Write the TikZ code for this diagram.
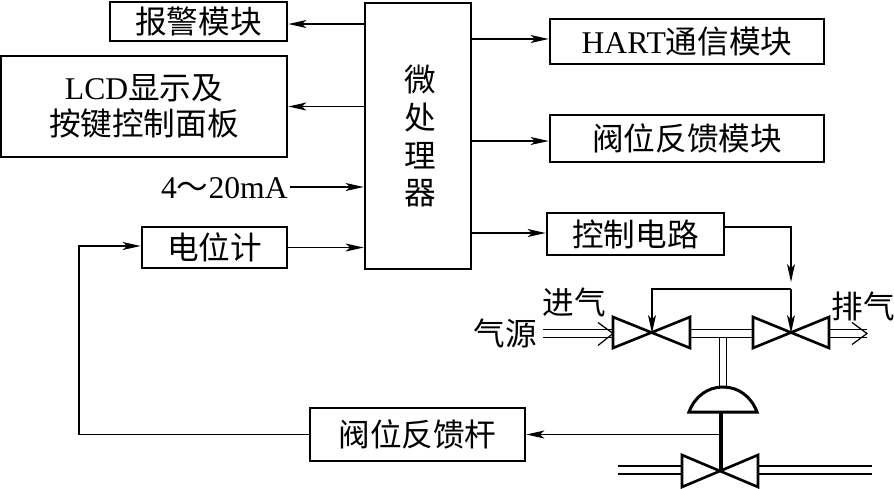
\documentclass[tikz,border=0pt]{standalone}
\usepackage{fontspec}
\setmainfont{Liberation Serif}
\newfontfamily\cjk{Noto Sans CJK SC}
\usetikzlibrary{arrows.meta}
\tikzstyle{process} = [rectangle, draw=black, line width=1.6pt, inner sep=0pt, text centered, font=\fontsize{18}{20.6}\selectfont]
\tikzstyle{labeltext} = [inner sep=0pt, font=\fontsize{18}{20.6}\selectfont]
\tikzstyle{arrow} = [line width=0.7pt,-{Stealth[length=0.36cm,width=0.16cm,inset=0.09cm]}]
\tikzstyle{valve} = [line width=1.5pt, line join=miter]
\tikzstyle{airline} = [double, double distance=3.5pt, line width=0.6pt]
\tikzstyle{barb} = [line width=0.7pt]
\tikzstyle{pipe} = [double, double distance=3pt, line width=1.2pt]

\begin{document}
\begin{tikzpicture}[x=0.02cm,y=-0.02cm]
\useasboundingbox (0,0) rectangle (894,488);

\node (mcu) [process, minimum width=2.12cm, minimum height=5.32cm, align=center, font=\fontsize{18}{21.6}\selectfont] at (418,136) {\cjk\hspace{0.1cm}微\\\cjk\hspace{0.1cm}处\\\cjk\hspace{0.1cm}理\\\cjk\hspace{0.1cm}器};
\node (alarm) [process, minimum width=3.54cm, minimum height=0.78cm] at (198.5,21.5) {\cjk 报警模块};
\node (lcd) [process, minimum width=5.72cm, minimum height=2.02cm, align=center] at (144,106.5) {LCD{\cjk 显示及}\\\cjk 按键控制面板};
\node (current) [labeltext, anchor=east] at (288,188) {4{\cjk ～}20mA};
\node (pot) [process, minimum width=2.9cm, minimum height=0.82cm] at (214.5,247.5) {\cjk 电位计};
\node (hart) [process, minimum width=5.48cm, minimum height=0.9cm] at (687,41.5) {HART{\cjk 通信模块}};
\node (posfb) [process, minimum width=5.48cm, minimum height=0.94cm] at (687,138.5) {\cjk 阀位反馈模块};
\node (ctrl) [process, minimum width=3.54cm, minimum height=0.84cm] at (635.5,234) {\cjk 控制电路};
\node (rod) [process, minimum width=4.3cm, minimum height=1.06cm] at (417.5,434.5) {\cjk 阀位反馈杆};

\node (inlet) [labeltext] at (574,302) {\cjk 进气};
\node (source) [labeltext] at (505,333) {\cjk 气源};
\node (exhaust) [labeltext] at (863,306) {\cjk 排气};

\coordinate (valvea) at (652,333);
\coordinate (valveb) at (791,333);
\coordinate (valvec) at (720,471);
\coordinate (sourcein) at (543,333.5);
\coordinate (sourceend) at (613,333.5);
\coordinate (exhaustout) at (867,333.5);
\coordinate (tee) at (723,333.5);
\coordinate (bridge) at (791,289);
\coordinate (stemtap) at (721,434.5);
\coordinate (potcorner) at (79,246);

% signals round the processor
\draw [arrow] ([yshift=-0.05cm]mcu.west |- alarm.east) -- ([yshift=-0.05cm]alarm.east);
\draw [arrow] (mcu.west |- lcd.east) -- (lcd.east);
\draw [arrow] ([xshift=0.04cm]current.east |- 0,187) -- (mcu.west |- 0,187);
\draw [arrow] (pot.east) -- (mcu.west |- pot.east);
\draw [arrow] (mcu.east |- 0,39) -- (hart.west |- 0,39);
\draw [arrow] (mcu.east |- 0,141) -- (posfb.west |- 0,141);
\draw [arrow] (mcu.east |- 0,233) -- (ctrl.west |- 0,233);

% feedback
\draw [arrow] (rod.west) -| (potcorner) -- (pot.west |- potcorner);
\draw [arrow] (stemtap) -- (rod.east |- stemtap);

% solenoid valves
\draw [airline] (723,336) -- (723,386);
\draw [airline] ([xshift=0.78cm]valvea |- tee) -- ([xshift=-0.78cm]valveb |- tee);
\draw [airline] (sourcein) -- (sourceend);
\draw [barb] ([shift={(-15,-11)}]sourceend) -- (sourceend) -- ([shift={(-15,12)}]sourceend);
\draw [airline] ([xshift=0.78cm]valveb |- tee) -- (exhaustout);
\draw [barb] ([shift={(-15,-11)}]exhaustout) -- (exhaustout) -- ([shift={(-15,11)}]exhaustout);

\draw [valve, fill=white] ([shift={(-39,-16)}]valvea) -- ([shift={(38,15)}]valvea) -- ([shift={(38,-16)}]valvea) -- ([shift={(-39,15)}]valvea) -- cycle;
\draw [valve, fill=white] ([shift={(-38,-16)}]valveb) -- ([shift={(38,15)}]valveb) -- ([shift={(38,-16)}]valveb) -- ([shift={(-38,15)}]valveb) -- cycle;

\draw [arrow] (ctrl.east |- 0,227) -| (791,282);
\draw [arrow] (bridge) -- (valveb);
\draw [arrow] (bridge) -- (valvea |- bridge) -- (valvea);

% actuator and main valve
\draw [pipe] (618,470) -- (682,470);
\draw [pipe] (758,470) -- (872,470);
\draw [valve, line width=1.7pt] (689,412) .. controls (695,396) and (708,387) .. (723,387) .. controls (738,387) and (751,396) .. (757,412) -- cycle;
\draw [valve, fill=white] ([shift={(-38,-16)}]valvec) -- ([shift={(38,16)}]valvec) -- ([shift={(38,-16)}]valvec) -- ([shift={(-38,16)}]valvec) -- cycle;
\draw [line width=2.3pt] (721,412) -- (721,471);
\end{tikzpicture}
\end{document}
